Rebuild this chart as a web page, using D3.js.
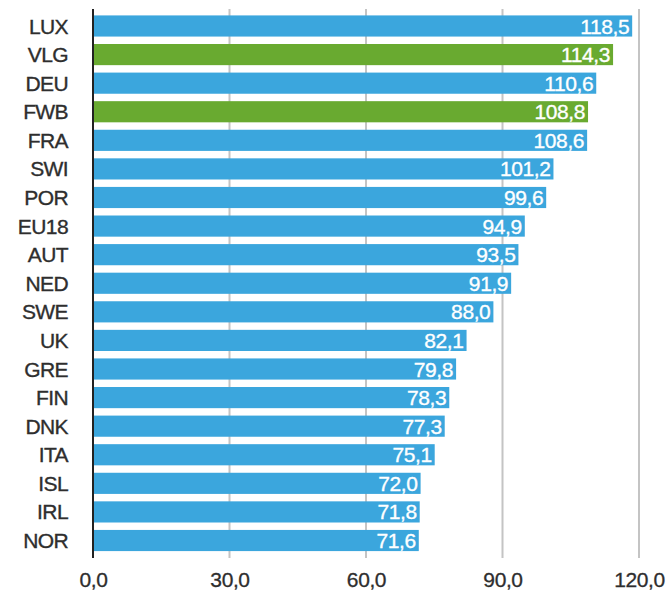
<!DOCTYPE html>
<html>
<head>
<meta charset="utf-8">
<script src="https://cdn.jsdelivr.net/npm/d3@7"></script>
<style>
  html, body { margin: 0; padding: 0; background: #fff; }
  svg { display: block; font-family: "Liberation Sans", Arial, sans-serif; }
</style>
</head>
<body>
<svg id="chart" width="668" height="594"></svg>
<script>
// Countries / regions, top to bottom
const categories = ["LUX", "VLG", "DEU", "FWB", "FRA", "SWI", "POR", "EU18", "AUT", "NED",
                    "SWE", "UK", "GRE", "FIN", "DNK", "ITA", "ISL", "IRL", "NOR"];
// Index values
const values = [118.5, 114.3, 110.6, 108.8, 108.6, 101.2, 99.6, 94.9, 93.5, 91.9,
                88.0, 82.1, 79.8, 78.3, 77.3, 75.1, 72.0, 71.8, 71.6];
// Highlighted entries (Flemish and French-speaking communities)
const highlighted = ["VLG", "FWB"];
// Axis ticks
const tickValues = [0, 30, 60, 90, 120];

const data = categories.map((c, i) => ({ name: c, value: values[i] }));

const svg = d3.select("#chart");
const blue = "#3ba6dd", green = "#69aa30";
const fmt = v => d3.format(".1f")(v).replace(".", ",");

const x = d3.scaleLinear().domain([0, 120]).range([93, 639]);
const y = d3.scaleBand().domain(categories).range([11.7, 554.8])
  .paddingInner(0.26).paddingOuter(0.13);

const gridTop = 9, gridBottom = 558;

// vertical gridlines
svg.append("g").selectAll("line").data(tickValues.filter(t => t > 0)).join("line")
  .attr("x1", d => x(d)).attr("x2", d => x(d))
  .attr("y1", gridTop).attr("y2", gridBottom)
  .attr("stroke", "#c4c4c4").attr("stroke-width", 2);

// bars
svg.append("g").selectAll("rect").data(data).join("rect")
  .attr("x", x(0))
  .attr("y", d => y(d.name))
  .attr("width", d => x(d.value) - x(0))
  .attr("height", y.bandwidth())
  .attr("fill", d => highlighted.includes(d.name) ? green : blue);

// value labels inside bar ends
svg.append("g").selectAll("text").data(data).join("text")
  .attr("x", d => x(d.value) - 3)
  .attr("y", d => y(d.name) + y.bandwidth() / 2)
  .attr("dy", "0.36em")
  .attr("text-anchor", "end")
  .attr("fill", "#fff")
  .attr("stroke", "#fff").attr("stroke-width", 0.35)
  .attr("letter-spacing", "-0.4px")
  .attr("font-size", 21)
  .text(d => fmt(d.value));

// category labels
svg.append("g").selectAll("text").data(data).join("text")
  .attr("x", 68)
  .attr("y", d => y(d.name) + y.bandwidth() / 2)
  .attr("dy", "0.36em")
  .attr("text-anchor", "end")
  .attr("fill", "#2e2e2e")
  .attr("stroke", "#2e2e2e").attr("stroke-width", 0.35)
  .attr("letter-spacing", "-0.6px")
  .attr("font-size", 21)
  .text(d => d.name);

// baseline axis at zero
svg.append("line")
  .attr("x1", x(0)).attr("x2", x(0))
  .attr("y1", gridTop).attr("y2", gridBottom)
  .attr("stroke", "#222").attr("stroke-width", 2);

// x-axis tick labels
const xAxis = d3.axisBottom(x).tickValues(tickValues).tickFormat(fmt).tickSize(0).tickPadding(0);
const gx = svg.append("g").attr("transform", "translate(0,572)").call(xAxis);
gx.select(".domain").remove();
gx.selectAll("text").attr("font-size", 21).attr("fill", "#2e2e2e")
  .attr("stroke", "#2e2e2e").attr("stroke-width", 0.3)
  .attr("letter-spacing", "-0.4px")
  .attr("font-family", "Liberation Sans, Arial, sans-serif");
</script>
</body>
</html>
